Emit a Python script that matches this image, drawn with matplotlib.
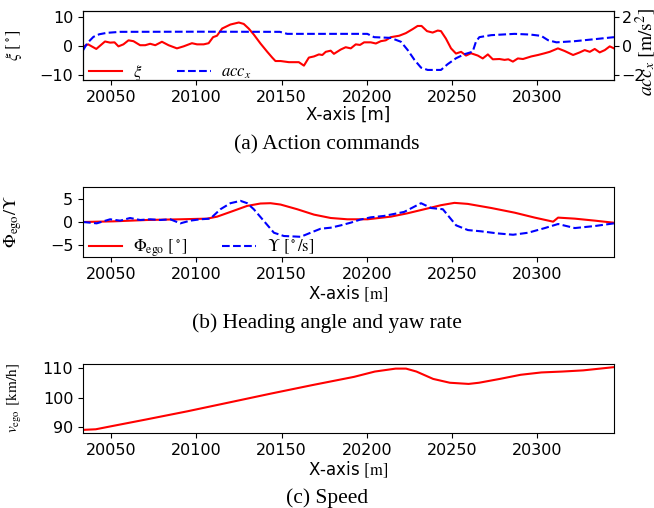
import numpy as np
import matplotlib
matplotlib.use("Agg")
import matplotlib.pyplot as plt

plt.rcParams['mathtext.fontset'] = 'stix'
plt.rcParams['font.size'] = 11.5

# (a) action commands: steering angle xi [deg] and longitudinal acceleration [m/s^2]
xi_x = [20033.5, 20036.5, 20041.3, 20046.4, 20049.4, 20052.0, 20054.3, 20057.2, 20060.2, 20063.1,
        20067.0, 20070.0, 20072.9, 20075.9, 20079.8, 20083.7, 20088.6, 20092.5, 20097.4, 20100.4,
        20104.3, 20107.2, 20109.8, 20112.1, 20115.1, 20120.0, 20124.9, 20127.8, 20130.7, 20133.7,
        20137.6, 20141.6, 20144.5, 20146.4, 20149.4, 20154.3, 20160.1, 20163.1, 20166.0, 20169.0,
        20171.9, 20173.9, 20175.9, 20178.8, 20180.7, 20184.7, 20187.6, 20190.6, 20193.5, 20196.0,
        20198.4, 20202.3, 20205.3, 20208.2, 20211.1, 20214.1, 20219.0, 20222.9, 20226.9, 20229.8,
        20232.1, 20235.3, 20238.6, 20241.6, 20243.5, 20246.4, 20249.4, 20252.3, 20255.3, 20258.2,
        20261.1, 20265.1, 20268.0, 20271.0, 20273.9, 20277.8, 20280.8, 20283.0, 20285.7, 20288.6,
        20291.6, 20296.5, 20300.4, 20304.3, 20307.3, 20312.1, 20316.0, 20321.0, 20324.9, 20327.8,
        20330.8, 20333.7, 20336.6, 20339.6, 20342.5, 20345.0]
xi_val = [-0.2, 0.6, -1.0, 1.6, 1.2, 1.3, -0.1, 0.6, 2.0, 1.7,
          0.3, 0.3, 0.8, 0.3, 1.5, 0.3, -0.8, -0.1, 1.0, 0.6,
          0.6, 1.0, 3.1, 3.6, 6.1, 7.5, 8.2, 7.7, 6.1, 4.0,
          0.9, -2.0, -4.0, -5.2, -5.2, -5.6, -5.6, -6.8, -4.0, -3.6,
          -2.9, -3.1, -2.0, -1.6, -2.7, -1.2, -0.4, -0.8, 0.6, 0.4,
          1.3, 1.3, 0.9, 1.7, 2.0, 3.1, 3.6, 4.5, 5.9, 7.0,
          7.0, 5.2, 4.7, 5.4, 5.2, 2.6, -0.8, -2.6, -2.0, -3.3,
          -2.5, -3.3, -4.3, -2.9, -4.6, -4.5, -4.8, -4.6, -5.4, -4.3,
          -4.5, -3.6, -3.1, -2.5, -2.0, -0.8, -1.7, -3.1, -2.2, -1.4,
          -2.0, -1.0, -2.2, -1.4, -0.1, -0.8]

acc_x_pos = [20033.5, 20036.0, 20039.6, 20043.0, 20047.4, 20055.3, 20100.0, 20149.0, 20153.3, 20200.3,
             20204.3, 20214.0, 20220.0, 20224.0, 20228.0, 20231.8, 20235.7, 20243.5, 20247.4, 20252.3,
             20257.2, 20262.1, 20264.0, 20266.0, 20273.0, 20286.7, 20296.0, 20302.3, 20306.3, 20311.2,
             20321.9, 20333.7, 20345.0]
acc_val = [-0.3, 0.2, 0.64, 0.82, 0.92, 0.99, 1.0, 0.99, 0.85, 0.85,
           0.62, 0.57, 0.3, -0.28, -0.97, -1.5, -1.66, -1.66, -1.26, -0.85,
           -0.57, -0.39, 0.3, 0.62, 0.76, 0.85, 0.8, 0.71, 0.41, 0.26,
           0.34, 0.48, 0.62]

# (b) heading angle [deg] and yaw rate [deg/s]
phi_x = [20033.5, 20051.3, 20071.0, 20090.6, 20106.3, 20112.2, 20120.0, 20129.8, 20137.6, 20143.5,
         20149.4, 20159.2, 20169.0, 20178.8, 20188.6, 20200.4, 20214.1, 20223.9, 20233.7, 20243.5,
         20251.4, 20259.2, 20273.0, 20286.7, 20298.5, 20309.3, 20312.2, 20322.0, 20333.8, 20345.0]
phi_val = [0.0, 0.14, 0.43, 0.58, 0.72, 1.15, 2.16, 3.45, 3.96, 4.03,
           3.74, 2.73, 1.58, 0.86, 0.58, 0.58, 1.15, 1.87, 2.73, 3.6,
           4.1, 3.88, 3.0, 2.0, 0.94, 0.07, 0.94, 0.72, 0.29, -0.16]

yaw_x = [20033.5, 20041.5, 20049.4, 20055.3, 20061.1, 20067.0, 20072.9, 20078.8, 20084.7, 20090.6,
         20096.4, 20102.3, 20108.2, 20114.1, 20120.0, 20125.9, 20129.8, 20133.7, 20139.6, 20145.5,
         20151.3, 20161.2, 20167.0, 20172.9, 20178.8, 20184.7, 20190.6, 20196.0, 20202.3, 20210.1,
         20221.9, 20231.8, 20237.7, 20244.6, 20252.4, 20259.3, 20267.1, 20276.9, 20285.8, 20294.6,
         20304.4, 20312.2, 20322.0, 20333.8, 20345.0]
yaw_val = [0.0, -0.29, 0.58, 0.29, 0.86, 0.43, 0.58, 0.43, 0.58, -0.29,
           0.29, 0.58, 0.72, 2.73, 4.03, 4.53, 4.03, 2.73, 0.22, -2.3,
           -3.0, -3.17, -2.3, -1.44, -1.22, -0.72, -0.14, 0.5, 1.0, 1.3,
           2.16, 4.03, 3.0, 2.73, -0.72, -1.73, -2.0, -2.45, -2.73, -2.3,
           -1.3, -0.43, -1.3, -0.86, -0.29]

# (c) ego speed [km/h]
v_x = [20033.5, 20041.0, 20050.7, 20070.3, 20094.7, 20119.2, 20143.6, 20168.0, 20192.5, 20204.7,
       20216.9, 20223.0, 20229.1, 20238.9, 20248.7, 20259.7, 20265.8, 20278.0, 20290.2, 20302.4,
       20314.6, 20326.9, 20345.0]
v_val = [89.1, 89.3, 90.4, 92.6, 95.4, 98.4, 101.4, 104.3, 107.1, 108.9,
         109.9, 109.9, 108.9, 106.4, 105.1, 104.7, 105.1, 106.4, 107.8, 108.6,
         108.9, 109.3, 110.4]

XLIM = (20033.5, 20345)
W, H = 654, 508
serif = 'Liberation Serif'
YLAB_X = (24 - 83) / 531  # shared position of the left y labels

fig = plt.figure(figsize=(W / 100, H / 100), dpi=100)


def panel(top, bottom):
    return fig.add_axes([83 / W, 1 - bottom / H, 531 / W, (bottom - top) / H])


def legend(ax, handles, dy):
    ax.legend(handles=handles, loc='lower left', ncol=2, frameon=False, fontsize=12,
              bbox_to_anchor=(-0.005, dy), borderaxespad=0.1,
              handlelength=2.0, handletextpad=0.65, columnspacing=2.1)


# --- (a) ---
ax1 = panel(11, 80)
l1, = ax1.plot(xi_x, xi_val, 'r-', lw=1.5, label=r'$\xi$')
ax1.set_ylim(-11.8, 12.2)
ax1.set_yticks([-10, 0, 10])
ax1.set_xlim(*XLIM)
ax1.set_ylabel(r'$\xi\ [^\circ]$', fontsize=12)
ax1.set_xlabel('X-axis [m]', fontsize=12, labelpad=1)
ax1b = ax1.twinx()
l2, = ax1b.plot(acc_x_pos, acc_val, 'b--', lw=1.5, label=r'$acc_x$')
ax1b.set_ylim(-2.36, 2.44)
ax1b.set_yticks([-2, 0, 2])
ax1b.tick_params(axis='y', pad=2)
ax1b.set_ylabel(r'$acc_x\ [\mathrm{m/s^2}]$', fontsize=14)
ax1b.yaxis.set_label_coords((633 - 83) / 531, 0.40)
ax1b.set_xlim(*XLIM)
legend(ax1b, [l1, l2], -0.16)
fig.text(327 / W, 1 - 145 / H, '(a) Action commands', ha='center', va='center',
         family=serif, fontsize=15.5)

# --- (b) ---
ax2 = panel(187, 257)
p1, = ax2.plot(phi_x, phi_val, 'r-', lw=1.5, label=r'$\Phi_{\mathrm{ego}}\ [^\circ]$')
p2, = ax2.plot(yaw_x, yaw_val, 'b--', lw=1.5, label=r'$\Upsilon\ [^\circ/\mathrm{s}]$')
ax2.set_ylim(-7.5, 7.5)
ax2.set_yticks([-5, 0, 5])
ax2.set_xlim(*XLIM)
ax2.set_ylabel(r'$\Phi_{\mathrm{ego}}/\Upsilon$', fontsize=13)
ax2.set_xlabel(r'X-axis $[\mathrm{m}]$', fontsize=12, labelpad=1)
legend(ax2, [p1, p2], -0.15)
fig.text(327 / W, 1 - 323 / H, '(b) Heading angle and yaw rate', ha='center', va='center',
         family=serif, fontsize=15.5)

# --- (c) ---
ax3 = panel(364, 433)
ax3.plot(v_x, v_val, 'r-', lw=1.5)
ax3.set_xlim(*XLIM)
ax3.set_yticks([90, 100, 110])
ax3.set_ylabel(r'$v_{\mathrm{ego}}$ $[\mathrm{km/h}]$', fontsize=11)
ax3.set_xlabel(r'X-axis $[\mathrm{m}]$', fontsize=12, labelpad=1)
fig.text(327 / W, 1 - 498 / H, '(c) Speed', ha='center', va='center',
         family=serif, fontsize=15.5)

for ax in (ax1, ax2, ax3):
    ax.set_xticks([20050, 20100, 20150, 20200, 20250, 20300])
    ax.yaxis.set_label_coords(YLAB_X, 0.5)

fig.savefig('out.png', dpi=100)
